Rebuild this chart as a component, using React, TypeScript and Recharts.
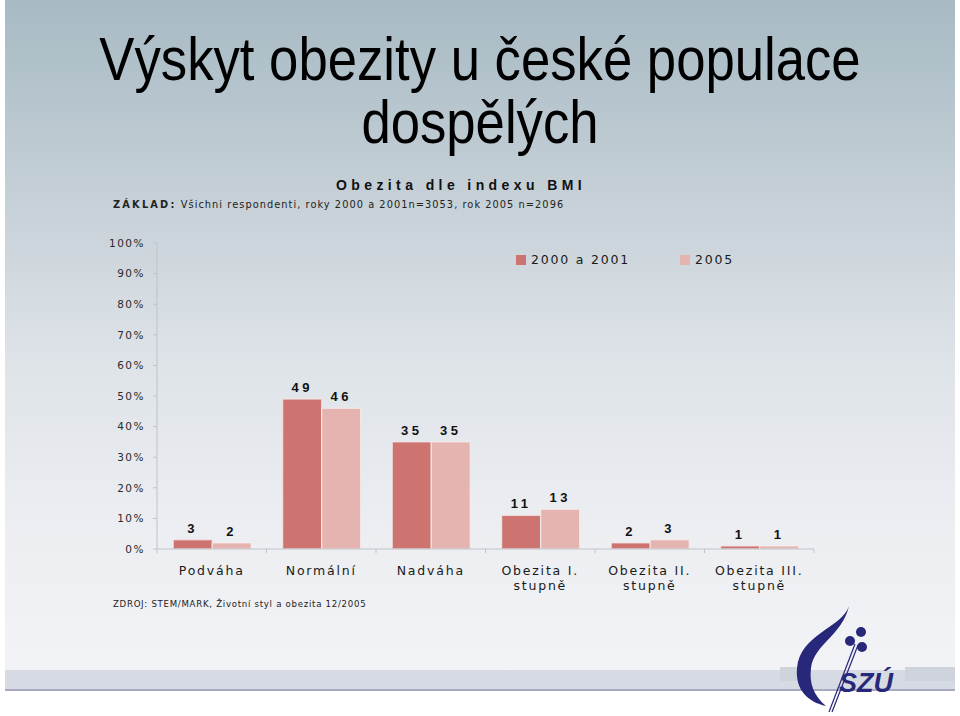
import { BarChart, Bar, XAxis, YAxis, LabelList } from "recharts";

const categories = ["Podváha", "Normální", "Nadváha", "Obezita I.|stupně", "Obezita II.|stupně", "Obezita III.|stupně"];
const values2000 = [3, 49, 35, 11, 2, 1];
const values2005 = [2, 46, 35, 13, 3, 1];
const yTicks = [0, 10, 20, 30, 40, 50, 60, 70, 80, 90, 100];
const seriesNames = ["2000 a 2001", "2005"];
const seriesColors = ["#cd7470", "#e6b4b0"];

const data = categories.map((c, i) => ({
  name: c,
  a: values2000[i],
  b: values2005[i],
}));

const W = 960;
const H = 716;
const PLOT_LEFT = 157;
const PLOT_RIGHT = 814;
const BAND = (PLOT_RIGHT - PLOT_LEFT) / categories.length;

const sans = "'DejaVu Sans', Verdana, sans-serif";
const arial = "'Liberation Sans', Arial, sans-serif";
const axisColor = "#bfc3c8";
const navy = "#27287a";

const CategoryTick = ({ x, y, payload, index }: any) => {
  const lines = String(payload.value).split("|");
  return (
    <g>
      <line x1={x + BAND / 2} x2={x + BAND / 2} y1={y - 8} y2={y - 4} stroke={axisColor} />
      {index === 0 && (
        <line x1={x - BAND / 2} x2={x - BAND / 2} y1={y - 8} y2={y - 4} stroke={axisColor} />
      )}
      {lines.map((l: string, i: number) => (
        <text
          key={i}
          x={x}
          y={y + 18 + i * 15}
          textAnchor="middle"
          fontFamily={sans}
          fontSize={12.5}
          letterSpacing={1.8}
          fill="#1a1a1a"
        >
          {l}
        </text>
      ))}
    </g>
  );
};

const Logo = () => (
  <g>
    <rect x={780} y={667} width={30} height={14} fill="#cfd3dc" />
    <rect x={905} y={667} width={50} height={14} fill="#cfd3dc" />
    <path
      d="M849 606 C 842 628, 800 634, 797 668 C 795 690, 808 702, 826 706 C 814 696, 809 684, 811 668 C 814 644, 842 636, 849 606 Z"
      fill={navy}
    />
    <circle cx={850} cy={641} r={5} fill={navy} />
    <circle cx={861} cy={632} r={5} fill={navy} />
    <circle cx={862} cy={647} r={5} fill={navy} />
    <line x1={855} y1={644} x2={829} y2={712} stroke={navy} strokeWidth={1.2} />
    <line x1={858} y1={645} x2={832} y2={712} stroke={navy} strokeWidth={1.2} />
    <text x={839} y={692} fontFamily={arial} fontStyle="italic" fontWeight="bold" fontSize={27} fill={navy}>
      SZÚ
    </text>
  </g>
);

export default function App() {
  return (
    <div style={{ position: "absolute", left: 0, top: 0, width: W, height: H, background: "#fff", overflow: "hidden" }}>
      <div
        style={{
          position: "absolute",
          left: 5,
          top: 0,
          width: 950,
          height: 670,
          background: "linear-gradient(180deg, #a7bac4 0%, #c6d0d7 30%, #dfe4e9 55%, #eceef2 80%, #f2f3f6 100%)",
        }}
      />
      <div style={{ position: "absolute", left: 5, top: 670, width: 950, height: 19, background: "#d6dae2" }} />
      <div style={{ position: "absolute", left: 5, top: 689, width: 950, height: 2, background: "#a9a9c2" }} />

      <svg width={W} height={H} style={{ position: "absolute", left: 0, top: 0 }}>
        <g transform="translate(480 0) scale(0.85 1)">
          <text x={0} y={80} textAnchor="middle" fontFamily={arial} fontSize={62} fill="#000">
            Výskyt obezity u české populace
          </text>
          <text x={0} y={143} textAnchor="middle" fontFamily={arial} fontSize={62} fill="#000">
            dospělých
          </text>
        </g>
        <text x={336} y={190} fontFamily={arial} fontWeight="bold" fontSize={14} letterSpacing={4.4} fill="#111">
          Obezita dle indexu BMI
        </text>
        <text x={113} y={208} fontFamily={sans} fontSize={9.8} fill="#222">
          <tspan fontWeight="bold" letterSpacing={2.2}>ZÁKLAD:</tspan>
          <tspan letterSpacing={1.05}> Všichni respondenti, roky 2000 a 2001n=3053, rok 2005 n=2096</tspan>
        </text>
        <text x={113} y={607} fontFamily={sans} fontSize={8.6} letterSpacing={0.72} fill="#222">
          ZDROJ: STEM/MARK, Životní styl a obezita 12/2005
        </text>
        <Logo />
      </svg>

      <div
        style={{
          position: "absolute",
          top: 252,
          left: 516,
          display: "flex",
          fontFamily: sans,
          fontSize: 12.5,
          letterSpacing: 1.8,
          color: "#1a1a1a",
        }}
      >
        {seriesNames.map((s, i) => (
          <div key={s} style={{ display: "flex", alignItems: "center", marginRight: i === 0 ? 50 : 0 }}>
            <span style={{ width: 10, height: 10, background: seriesColors[i], marginRight: 5 }} />
            {s}
          </div>
        ))}
      </div>

      <div style={{ position: "absolute", left: 0, top: 0 }}>
        <BarChart
          width={W}
          height={H}
          data={data}
          margin={{ top: 243, right: W - PLOT_RIGHT, bottom: H - 549 - 50, left: PLOT_LEFT - 60 }}
          barCategoryGap="14.8%"
          barGap={0}
        >
          <XAxis
            dataKey="name"
            height={50}
            axisLine={{ stroke: axisColor }}
            tickLine={false}
            tick={<CategoryTick />}
            interval={0}
          />
          <YAxis
            width={60}
            domain={[0, 100]}
            ticks={yTicks}
            tickFormatter={(v: number) => `${v}%`}
            axisLine={{ stroke: axisColor }}
            tickLine={{ stroke: axisColor }}
            tickSize={4}
            tickMargin={8}
            tick={{ fill: "#2a2a2a", fontSize: 10.5, fontFamily: sans, letterSpacing: 1.5 }}
          />
          <Bar dataKey="a" name={seriesNames[0]} fill={seriesColors[0]} stroke="#f3e6e6" strokeWidth={1} isAnimationActive={false}>
            <LabelList
              dataKey="a"
              position="top"
              offset={7}
              style={{ fontFamily: arial, fontWeight: "bold", fontSize: 13, letterSpacing: 3.5, fill: "#111" }}
            />
          </Bar>
          <Bar dataKey="b" name={seriesNames[1]} fill={seriesColors[1]} stroke="#f6ecec" strokeWidth={1} isAnimationActive={false}>
            <LabelList
              dataKey="b"
              position="top"
              offset={7}
              style={{ fontFamily: arial, fontWeight: "bold", fontSize: 13, letterSpacing: 3.5, fill: "#111" }}
            />
          </Bar>
        </BarChart>
      </div>
    </div>
  );
}
